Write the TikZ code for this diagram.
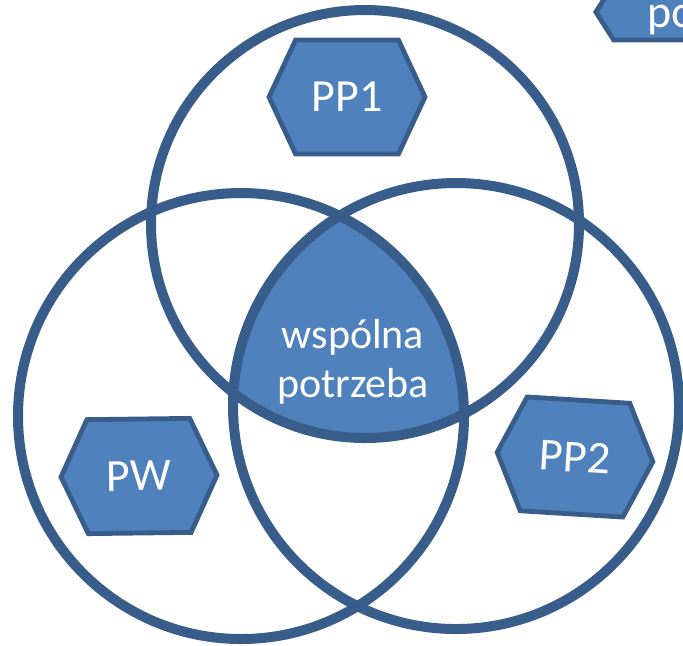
\documentclass[tikz,border=0pt]{standalone}
\usepackage{fontspec}
\setmainfont{Carlito}
\usetikzlibrary{shapes.symbols}
\definecolor{hexfill}{HTML}{4F81BD}
\definecolor{hexline}{HTML}{385D8A}

\begin{document}
\begin{tikzpicture}[x=0.5pt, y=-0.5pt]
\tikzstyle{ring} = [draw=hexline, line width=5pt]
\tikzstyle{hexa} = [signal, signal to=east and west, signal pointer angle=130, minimum width=78pt, minimum height=57pt, inner sep=0pt, draw=hexline, line width=2.4pt, fill=hexfill, text=white, font=\fontsize{23}{27}\selectfont]
\tikzstyle{core} = [align=center, text=white, font=\fontsize{21}{24.5}\selectfont]

\useasboundingbox (0,0) rectangle (683,645);
\clip (0,0) rectangle (683,645);

% common part of the three circles
\begin{scope}
\clip (365,224) circle[radius=214];
\clip (241,416) circle[radius=223];
\fill[hexfill] (456,406) circle[radius=223];
\end{scope}

% circles
\draw[ring] (365,224) circle[radius=214];
\draw[ring] (241,416) circle[radius=223];
\draw[ring] (456,406) circle[radius=223];

\node (need) [core] at (353,362) {wspólna\\potrzeba};

% hexagons
\node (pp1) [hexa] at (347,97) {PP1};
\node (pw) [hexa, rotate=0.7] at (139,476) {PW};
\node (pp2) [hexa, rotate=-3.5] at (575,457) {PP2};
\node (pohex) [hexa, signal pointer angle=115, minimum height=28pt, minimum width=150pt, anchor=west] at (593,12) {};
\node (potxt) [core, font=\fontsize{23}{27}\selectfont, anchor=base west] at (640,27) {po};
\end{tikzpicture}
\end{document}
